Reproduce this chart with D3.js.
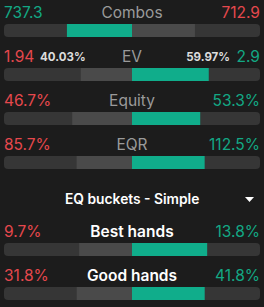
<!DOCTYPE html>
<html>
<head>
<meta charset="utf-8">
<script src="https://cdn.jsdelivr.net/npm/d3@7"></script>
<style>
  html, body { margin: 0; padding: 0; background: #1c1c1c; }
  svg { display: block; }
  text { font-family: Inter, "Noto Sans", sans-serif; }
</style>
</head>
<body>
<script>
const metrics = ["Combos", "EV", "Equity", "EQR"];
const leftVals = [737.3, 1.94, 46.7, 85.7];
const rightVals = [712.9, 2.9, 53.3, 112.5];
const leftText = ["737.3", "1.94", "46.7%", "85.7%"];
const rightText = ["712.9", "2.9", "53.3%", "112.5%"];
const evShares = [40.03, 59.97];
const evShareText = ["40.03%", "59.97%"];

const bucketTitle = "EQ buckets - Simple";
const buckets = ["Best hands", "Good hands"];
const bucketLeft = [9.7, 31.8];
const bucketRight = [13.8, 41.8];
const bucketLeftText = ["9.7%", "31.8%"];
const bucketRightText = ["13.8%", "41.8%"];

const width = 264, height = 307;
const barL = 4, barR = 260, barH = 13, mid = (barL + barR) / 2;

const green = "#13a884", greenBar = "#10ad8b", red = "#e5484d";
const barBg = "#363636", barLose = "#4a4a4a";

const svg = d3.select("body").append("svg")
  .attr("width", width)
  .attr("height", height);

// half-bar scale: share of the total -> pixels from the centre
const half = d3.scaleLinear().domain([0, 1]).range([0, mid - barL]);

// vertical positions of the bar tops
const rowY = d3.scaleLinear().domain([0, 1]).range([24, 68]);

const rows = metrics.map((m, i) => {
  let l = leftVals[i] / (leftVals[i] + rightVals[i]);
  if (m === "EV") l = evShares[0] / (evShares[0] + evShares[1]);
  return {label: m, left: l, right: 1 - l, lt: leftText[i], rt: rightText[i],
    y: rowY(i), leftWins: leftVals[i] > rightVals[i], center: "#9a9a9a", bold: false};
});
buckets.forEach((b, i) => {
  const l = bucketLeft[i] / (bucketLeft[i] + bucketRight[i]);
  rows.push({label: b, left: l, right: 1 - l, lt: bucketLeftText[i], rt: bucketRightText[i],
    y: rowY(i + 5) - 1, leftWins: bucketLeft[i] > bucketRight[i], center: "#ffffff", bold: true});
});

const defs = svg.append("defs");

const g = svg.selectAll("g.row").data(rows).enter().append("g").attr("class", "row");

g.each(function(d, i) {
  const row = d3.select(this);
  defs.append("clipPath").attr("id", "clip" + i)
    .append("rect")
    .attr("x", barL).attr("y", d.y)
    .attr("width", barR - barL).attr("height", barH)
    .attr("rx", 4);

  const bar = row.append("g").attr("clip-path", "url(#clip" + i + ")");
  bar.append("rect")
    .attr("x", barL).attr("y", d.y)
    .attr("width", barR - barL).attr("height", barH)
    .attr("fill", barBg);
  bar.append("rect")
    .attr("x", mid - half(d.left)).attr("y", d.y)
    .attr("width", half(d.left)).attr("height", barH)
    .attr("fill", d.leftWins ? greenBar : barLose);
  bar.append("rect")
    .attr("x", mid).attr("y", d.y)
    .attr("width", half(d.right)).attr("height", barH)
    .attr("fill", d.leftWins ? barLose : greenBar);

  const base = d.y - 6;
  row.append("text")
    .attr("x", barL).attr("y", base)
    .attr("font-size", 15.5)
    .attr("fill", d.leftWins ? green : red)
    .text(d.lt);
  row.append("text")
    .attr("x", barR).attr("y", base)
    .attr("text-anchor", "end")
    .attr("font-size", 15.5)
    .attr("fill", d.leftWins ? red : green)
    .text(d.rt);
  row.append("text")
    .attr("x", mid).attr("y", base)
    .attr("text-anchor", "middle")
    .attr("font-size", 15.5)
    .attr("font-weight", d.bold ? 600 : 400)
    .attr("fill", d.center)
    .text(d.label);

  if (d.label === "EV") {
    row.append("text")
      .attr("x", 40).attr("y", base - 1)
      .attr("font-size", 11.5).attr("font-weight", 700)
      .attr("fill", "#dcdcdc")
      .text(evShareText[0]);
    row.append("text")
      .attr("x", 230).attr("y", base - 1)
      .attr("text-anchor", "end")
      .attr("font-size", 11.5).attr("font-weight", 700)
      .attr("fill", "#dcdcdc")
      .text(evShareText[1]);
  }
});

// dropdown
svg.append("text")
  .attr("x", 65).attr("y", 204)
  .attr("font-size", 13.8).attr("font-weight", 600)
  .attr("fill", "#ffffff")
  .text(bucketTitle);
svg.append("path")
  .attr("d", d3.line()([[245, 197], [254, 197], [249.5, 202]]))
  .attr("fill", "#ffffff");
</script>
</body>
</html>
